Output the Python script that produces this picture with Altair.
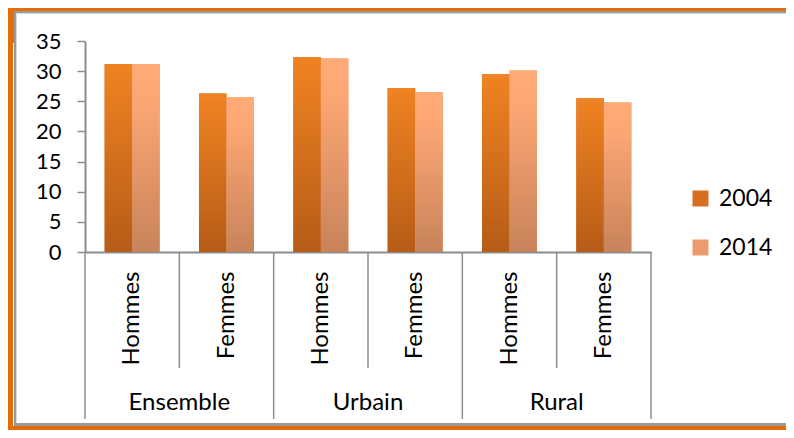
import altair as alt
import pandas as pd

groups = ["Ensemble", "Urbain", "Rural"]
sexes = ["Hommes", "Femmes"]
years = ["2004", "2014"]
values_2004 = [31.2, 26.3, 32.3, 27.2, 29.5, 25.5]
values_2014 = [31.2, 25.7, 32.1, 26.5, 30.1, 24.8]
y_ticks = [0, 5, 10, 15, 20, 25, 30, 35]

keys = [f"{g}|{s}" for g in groups for s in sexes]
rows = []
for i, k in enumerate(keys):
    g, s = k.split("|")
    rows.append({"key": k, "group": g, "sex": s, "year": "2004", "value": values_2004[i]})
    rows.append({"key": k, "group": g, "sex": s, "year": "2014", "value": values_2014[i]})
df = pd.DataFrame(rows)

W, H = 566, 211
GRAY = "#8C8C8C"
ORANGE = "#E46C0A"
FONT = "Lato"

xscale = alt.Scale(domain=keys, paddingInner=0, paddingOuter=0)
xaxis = alt.Axis(title=None, labelExpr="split(datum.value, '|')[1]", labelAngle=270,
                 labelAlign="right", labelBaseline="middle", labelPadding=19, ticks=False,
                 domainColor=GRAY, domainWidth=2, labelFont=FONT, labelFontSize=24,
                 labelColor="#000000", labelOverlap=False)
yaxis = alt.Axis(title=None, values=y_ticks, grid=False, tickSize=8, tickColor=GRAY,
                 tickWidth=1.5, domainColor=GRAY, domainWidth=2, labelFont=FONT,
                 labelFontSize=22, labelColor="#000000", labelPadding=16,
                 labelFlush=False, labelOverlap=False)

x = alt.X("key:N", scale=xscale, sort=keys, axis=xaxis)
y = alt.Y("value:Q", scale=alt.Scale(domain=[0, 35], nice=False, zero=True), axis=yaxis)
xo = alt.XOffset("year:N", scale=alt.Scale(domain=years, paddingInner=0, paddingOuter=0.715))

grad04 = alt.LinearGradient(gradient="linear", x1=0, y1=0, x2=0, y2=1,
                            stops=[alt.GradientStop(offset=0, color="#F08322"),
                                   alt.GradientStop(offset=1, color="#B65C17")])
grad14 = alt.LinearGradient(gradient="linear", x1=0, y1=0, x2=0, y2=1,
                            stops=[alt.GradientStop(offset=0, color="#FFAB78"),
                                   alt.GradientStop(offset=0.2, color="#FCA674"),
                                   alt.GradientStop(offset=1, color="#C8835A")])

base = alt.Chart(df)

shadow = base.mark_bar(color="#000000", opacity=0.10, xOffset=3).encode(x=x, y=y, xOffset=xo)

solid = base.mark_bar().encode(
    x=x, y=y, xOffset=xo,
    color=alt.Color("year:N", scale=alt.Scale(domain=years, range=["#D86E1F", "#EC9C6C"]),
                    legend=alt.Legend(title=None, orient="none", legendX=604, legendY=146,
                                      direction="vertical", symbolType="square",
                                      symbolSize=256, symbolStrokeWidth=0,
                                      labelFont=FONT, labelFontSize=23, labelColor="#000000",
                                      labelOffset=7, rowPadding=25, padding=0)))

bars04 = base.transform_filter(alt.datum.year == "2004").mark_bar(fill=grad04).encode(x=x, y=y, xOffset=xo)
bars14 = base.transform_filter(alt.datum.year == "2014").mark_bar(fill=grad14).encode(x=x, y=y, xOffset=xo)

inner_df = pd.DataFrame({"key": [f"{g}|Femmes" for g in groups], "group": groups})
outer_df = pd.DataFrame({"key": [f"{g}|Hommes" for g in groups]})
end_df = pd.DataFrame({"key": [keys[-1]]})

x0 = alt.X("key:N", scale=xscale, sort=keys, axis=xaxis, bandPosition=0)
x1 = alt.X("key:N", scale=xscale, sort=keys, axis=xaxis, bandPosition=1)

inner_rules = alt.Chart(inner_df).mark_rule(color=GRAY, strokeWidth=1.5).encode(
    x=x0, y=alt.value(H), y2=alt.value(H + 116))
outer_rules = alt.Chart(outer_df).mark_rule(color=GRAY, strokeWidth=1.5).encode(
    x=x0, y=alt.value(H), y2=alt.value(H + 167))
end_rule = alt.Chart(end_df).mark_rule(color=GRAY, strokeWidth=1.5).encode(
    x=x1, y=alt.value(H), y2=alt.value(H + 167))

group_text = alt.Chart(inner_df).mark_text(font=FONT, fontSize=24, color="#000000",
                                           baseline="middle", align="center").encode(
    x=x0, y=alt.value(362), text="group:N")

one = pd.DataFrame({"a": [0]})


def frame_rect(color, xa, xb, ya, yb):
    return alt.Chart(one).mark_rect(color=color).encode(
        x=alt.value(xa), x2=alt.value(xb), y=alt.value(ya), y2=alt.value(yb))


frame = [
    frame_rect(ORANGE, -77, 701, -33, -30),
    frame_rect(ORANGE, -77, -72, -33, 389),
    frame_rect(ORANGE, -77, -71, -33, 2),
    frame_rect(ORANGE, -77, 701, 385, 389),
    frame_rect("#9A9A9A", -71, 701, -30, -28),
    frame_rect("#9A9A9A", -71, -69, -30, 385),
    frame_rect("#9A9A9A", -71, 701, 382, 385),
    frame_rect("#D9D9D9", -69, 701, -28, -27),
    frame_rect("#D9D9D9", -69, -68, -28, 382),
]

chart = alt.layer(
    *frame, shadow, solid, bars04, bars14, inner_rules, outer_rules, end_rule, group_text
).properties(
    width=W, height=H,
    background="#FFFFFF",
    padding={"left": 77, "top": 33, "right": 135, "bottom": 178},
    autosize=alt.AutoSizeParams(type="none"),
).configure_view(strokeWidth=0, stroke="transparent")

chart.save("out.html", embed_options={"renderer": "svg", "actions": False})
